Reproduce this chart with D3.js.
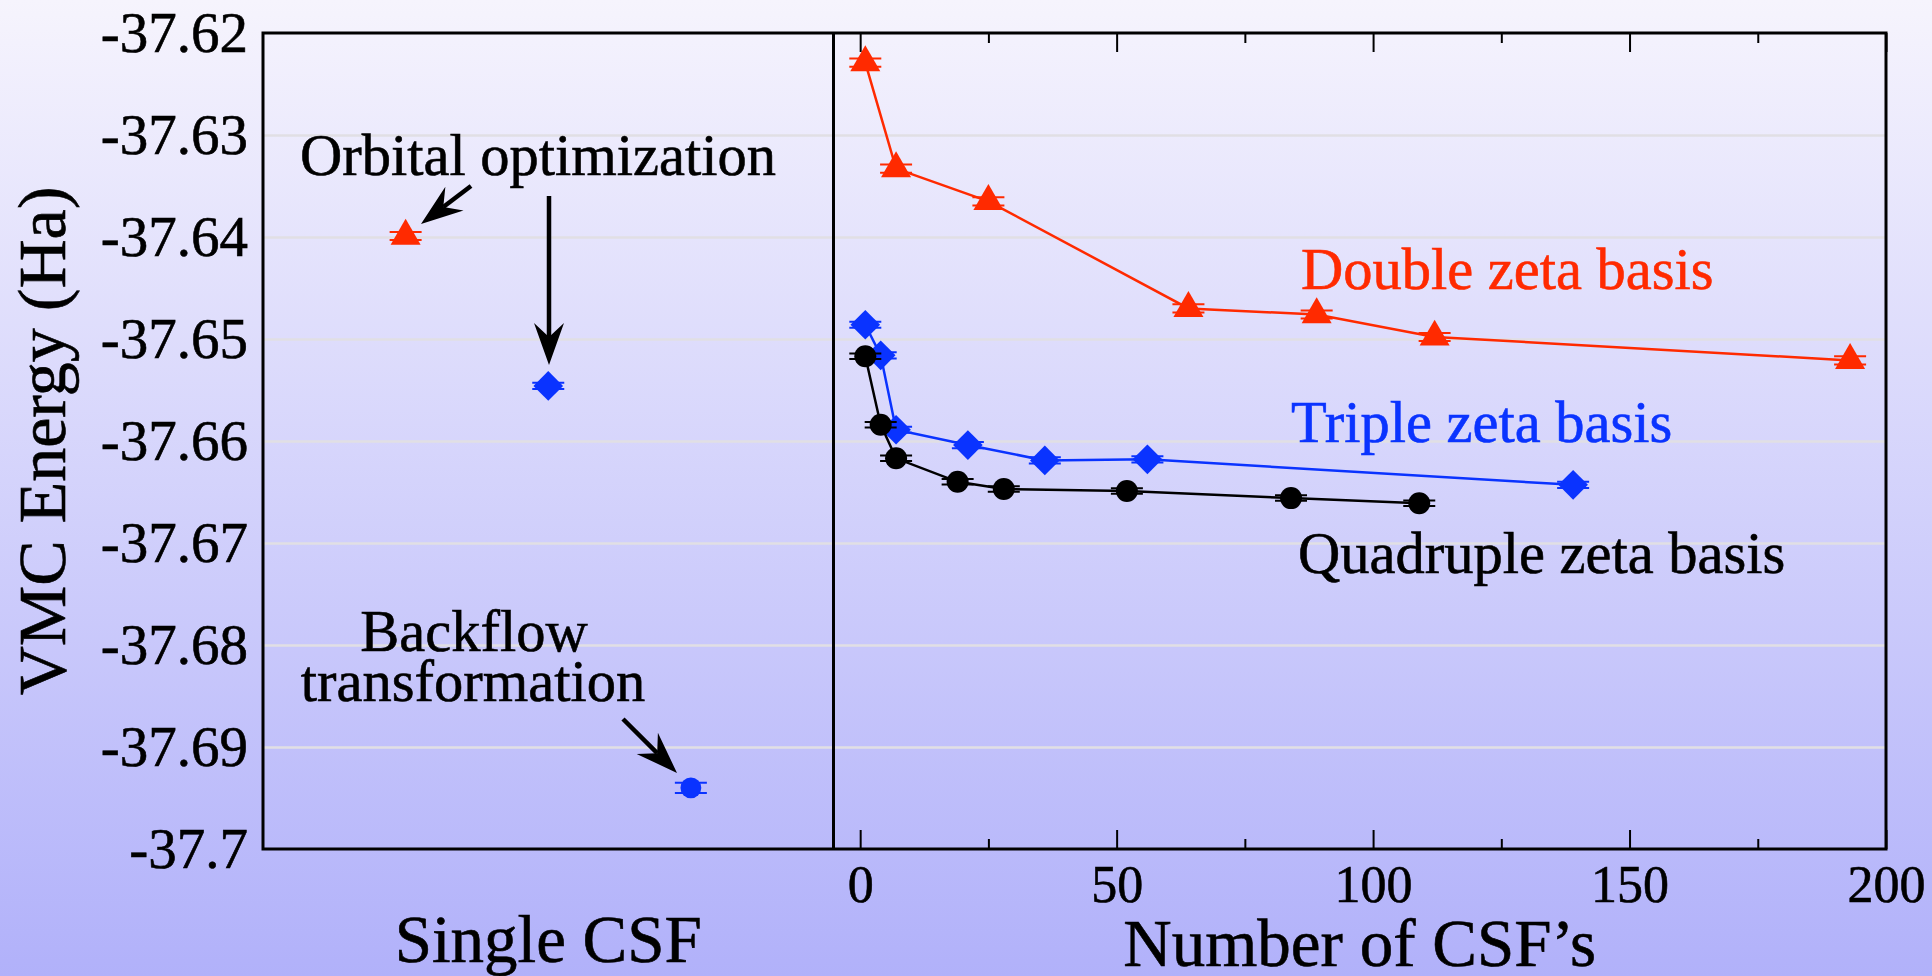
<!DOCTYPE html>
<html>
<head>
<meta charset="utf-8">
<script src="https://cdn.jsdelivr.net/npm/d3@7"></script>
<style>
  body { margin: 0; overflow: hidden; }
</style>
</head>
<body>
<div id="vis"></div>
<script>
const FRAME_WIDTH = 1932;
const FRAME_HEIGHT = 976;
const PLOT = {left: 263, right: 1886, top: 33, bottom: 849, split: 833.5};
const FONT = "'Liberation Serif', 'Times New Roman', Times, serif";

// y axis
const yTicks = [-37.62, -37.63, -37.64, -37.65, -37.66, -37.67, -37.68, -37.69, -37.7];

// x axis (right panel)
const xMajor = [0, 50, 100, 150, 200];
const xMinor = [25, 75, 125, 175];

// single CSF panel (slot 1..3)
const singleSlots = [1, 2, 3];
const singleEnergy = [-37.6399, -37.6546, -37.6940];
const singleErr = [0.0004, 0.0003, 0.0005];

// multi-determinant expansions
const doubleCsf = [1, 7, 25, 64, 89, 112, 193];
const doubleEnergy = [-37.6229, -37.6333, -37.6365, -37.6470, -37.6476, -37.6498, -37.6521];
const doubleErr = [0.0004, 0.0004, 0.0004, 0.0004, 0.0004, 0.0004, 0.0004];

const tripleCsf = [1, 4, 7, 21, 36, 56, 139];
const tripleEnergy = [-37.6486, -37.6516, -37.6589, -37.6604, -37.6619, -37.6618, -37.6643];
const tripleErr = [0.0003, 0.0003, 0.0003, 0.0003, 0.0003, 0.0003, 0.0003];

const quadCsf = [1, 4, 7, 19, 28, 52, 84, 109];
const quadEnergy = [-37.6517, -37.6584, -37.6617, -37.6640, -37.6647, -37.6649, -37.6656, -37.6661];
const quadErr = [0.00027, 0.00027, 0.00027, 0.00027, 0.00027, 0.00027, 0.00027, 0.00027];

const RED = "#ff2a00";
const BLUE = "#0a33ff";
const BLACK = "#000000";

const svg = d3.select("#vis")
  .append("svg")
    .attr("width", FRAME_WIDTH)
    .attr("height", FRAME_HEIGHT)
    .style("font-family", FONT);

// background gradient
const grad = svg.append("defs").append("linearGradient")
  .attr("id", "bg").attr("x1", 0).attr("y1", 0).attr("x2", 0).attr("y2", 1);
grad.append("stop").attr("offset", "0%").attr("stop-color", "#f6f4fd");
grad.append("stop").attr("offset", "100%").attr("stop-color", "#b1b1fa");
svg.append("rect")
  .attr("width", FRAME_WIDTH).attr("height", FRAME_HEIGHT)
  .attr("fill", "url(#bg)");

const Y_SCALE = d3.scaleLinear().domain([-37.7, -37.62]).range([PLOT.bottom, PLOT.top]);
const X_LEFT = d3.scaleLinear().domain([0, 4]).range([PLOT.left, PLOT.split]);
const X_RIGHT = d3.scaleLinear().domain([-5.2, 200]).range([PLOT.split, PLOT.right]);

// gridlines
svg.append("g")
  .attr("transform", "translate(" + PLOT.left + ",0)")
  .call(d3.axisLeft(Y_SCALE).tickValues(yTicks.slice(1, -1))
        .tickSize(-(PLOT.right - PLOT.left)).tickFormat(""))
  .call(g => g.select(".domain").remove())
  .selectAll("line")
    .attr("stroke", "#e1dfe4")
    .attr("stroke-width", 2.5);

// y tick labels
svg.append("g")
  .attr("transform", "translate(" + PLOT.left + ",0)")
  .call(d3.axisLeft(Y_SCALE).tickValues(yTicks).tickSize(0).tickPadding(15)
        .tickFormat(d => String(+d.toFixed(2))))
  .call(g => g.select(".domain").remove())
  .selectAll("text")
    .style("font-family", FONT)
    .attr("font-size", 57)
    .attr("fill", "#000")
    .attr("stroke", "#000").attr("stroke-width", 0.6);

// bottom ticks + labels
svg.append("g")
  .attr("transform", "translate(0," + PLOT.bottom + ")")
  .call(d3.axisBottom(X_RIGHT).tickValues(xMajor).tickSizeInner(-19).tickSizeOuter(0)
        .tickPadding(16).tickFormat(d3.format("d")))
  .call(g => g.select(".domain").remove())
  .call(g => g.selectAll("line").attr("stroke", "#000").attr("stroke-width", 2))
  .selectAll("text")
    .style("font-family", FONT)
    .attr("font-size", 52)
    .attr("fill", "#000")
    .attr("stroke", "#000").attr("stroke-width", 0.6);

svg.append("g")
  .attr("transform", "translate(0," + PLOT.bottom + ")")
  .call(d3.axisBottom(X_RIGHT).tickValues(xMinor).tickSize(-10).tickFormat(""))
  .call(g => g.select(".domain").remove())
  .selectAll("line").attr("stroke", "#000").attr("stroke-width", 2);

// top ticks
svg.append("g")
  .attr("transform", "translate(0," + PLOT.top + ")")
  .call(d3.axisTop(X_RIGHT).tickValues(xMajor).tickSize(-19).tickFormat(""))
  .call(g => g.select(".domain").remove())
  .selectAll("line").attr("stroke", "#000").attr("stroke-width", 2);

svg.append("g")
  .attr("transform", "translate(0," + PLOT.top + ")")
  .call(d3.axisTop(X_RIGHT).tickValues(xMinor).tickSize(-10).tickFormat(""))
  .call(g => g.select(".domain").remove())
  .selectAll("line").attr("stroke", "#000").attr("stroke-width", 2);

// frame and panel divider
svg.append("rect")
  .attr("x", PLOT.left).attr("y", PLOT.top)
  .attr("width", PLOT.right - PLOT.left).attr("height", PLOT.bottom - PLOT.top)
  .attr("fill", "none").attr("stroke", "#000").attr("stroke-width", 3);
svg.append("line")
  .attr("x1", PLOT.split).attr("x2", PLOT.split)
  .attr("y1", PLOT.top).attr("y2", PLOT.bottom)
  .attr("stroke", "#000").attr("stroke-width", 3);

// marker shapes
const TRI = d3.symbol().type(d3.symbolTriangle).size(390)();
const DIA = d3.symbol().type(d3.symbolSquare).size(440)();
const CIRC = d3.symbol().type(d3.symbolCircle).size(380)();
const CIRC_SMALL = d3.symbol().type(d3.symbolCircle).size(340)();

function drawSeries(xs, ys, errs, xScale, color, shape, rot, withLine) {
  const pts = xs.map((x, i) => ({x: x, y: ys[i], e: errs[i]}));
  const g = svg.append("g");
  if (withLine) {
    g.append("path")
      .datum(pts)
      .attr("fill", "none")
      .attr("stroke", color)
      .attr("stroke-width", 2.5)
      .attr("d", d3.line().x(d => xScale(d.x)).y(d => Y_SCALE(d.y)));
  }
  // error bars with caps
  const eb = g.selectAll(".eb").data(pts).enter().append("g")
    .attr("stroke", color).attr("stroke-width", 2);
  eb.append("line")
    .attr("x1", d => xScale(d.x)).attr("x2", d => xScale(d.x))
    .attr("y1", d => Y_SCALE(d.y - d.e)).attr("y2", d => Y_SCALE(d.y + d.e));
  eb.append("line")
    .attr("x1", d => xScale(d.x) - 16).attr("x2", d => xScale(d.x) + 16)
    .attr("y1", d => Y_SCALE(d.y - d.e)).attr("y2", d => Y_SCALE(d.y - d.e));
  eb.append("line")
    .attr("x1", d => xScale(d.x) - 16).attr("x2", d => xScale(d.x) + 16)
    .attr("y1", d => Y_SCALE(d.y + d.e)).attr("y2", d => Y_SCALE(d.y + d.e));
  g.selectAll(".mk").data(pts).enter().append("path")
    .attr("d", shape)
    .attr("fill", color)
    .attr("transform", d => "translate(" + xScale(d.x) + "," + Y_SCALE(d.y) + ") rotate(" + rot + ")");
}

// single CSF panel points
drawSeries([singleSlots[0]], [singleEnergy[0]], [singleErr[0]], X_LEFT, RED, TRI, 0, false);
drawSeries([singleSlots[1]], [singleEnergy[1]], [singleErr[1]], X_LEFT, BLUE, DIA, 45, false);
drawSeries([singleSlots[2]], [singleEnergy[2]], [singleErr[2]], X_LEFT, BLUE, CIRC_SMALL, 0, false);

// CSF expansions
drawSeries(doubleCsf, doubleEnergy, doubleErr, X_RIGHT, RED, TRI, 0, true);
drawSeries(tripleCsf, tripleEnergy, tripleErr, X_RIGHT, BLUE, DIA, 45, true);
drawSeries(quadCsf, quadEnergy, quadErr, X_RIGHT, BLACK, CIRC, 0, true);

// arrows
function arrow(x1, y1, x2, y2) {
  const ang = Math.atan2(y2 - y1, x2 - x1);
  const L = 42, W = 15, N = 28;
  svg.append("line")
    .attr("x1", x1).attr("y1", y1)
    .attr("x2", x2 - N * Math.cos(ang)).attr("y2", y2 - N * Math.sin(ang))
    .attr("stroke", "#000").attr("stroke-width", 4.5);
  svg.append("path")
    .attr("d", "M0,0L" + (-L) + "," + (-W) + "L" + (-N) + ",0L" + (-L) + "," + W + "Z")
    .attr("fill", "#000")
    .attr("transform", "translate(" + x2 + "," + y2 + ") rotate(" + (ang * 180 / Math.PI) + ")");
}
arrow(471, 186, 421, 224);
arrow(549, 196, 549, 365);
arrow(623, 719, 677, 773);

// annotation text
function label(x, y, txt, size, color, anchor) {
  return svg.append("text")
    .attr("x", x).attr("y", y)
    .style("font-family", FONT)
    .attr("font-size", size)
    .attr("fill", color)
    .attr("stroke", color)
    .attr("stroke-width", 0.6)
    .attr("text-anchor", anchor || "start")
    .text(txt);
}
label(300, 175, "Orbital optimization", 58.5, BLACK);
label(474, 651, "Backflow", 58.5, BLACK, "middle");
label(473, 701, "transformation", 58.5, BLACK, "middle");
label(1301, 289, "Double zeta basis", 58.5, RED);
label(1291, 442, "Triple zeta basis", 58.5, BLUE);
label(1298, 573, "Quadruple zeta basis", 58.5, BLACK);

// axis titles
label((PLOT.left + PLOT.split) / 2, 962, "Single CSF", 67, BLACK, "middle");
label((PLOT.split + PLOT.right) / 2, 966, "Number of CSF\u2019s", 67, BLACK, "middle");
svg.append("text")
  .attr("transform", "translate(65," + ((PLOT.top + PLOT.bottom) / 2) + ") rotate(-90)")
  .style("font-family", FONT)
  .attr("text-anchor", "middle")
  .attr("font-size", 68)
  .attr("stroke", "#000").attr("stroke-width", 0.6)
  .text("VMC Energy (Ha)");
</script>
</body>
</html>
